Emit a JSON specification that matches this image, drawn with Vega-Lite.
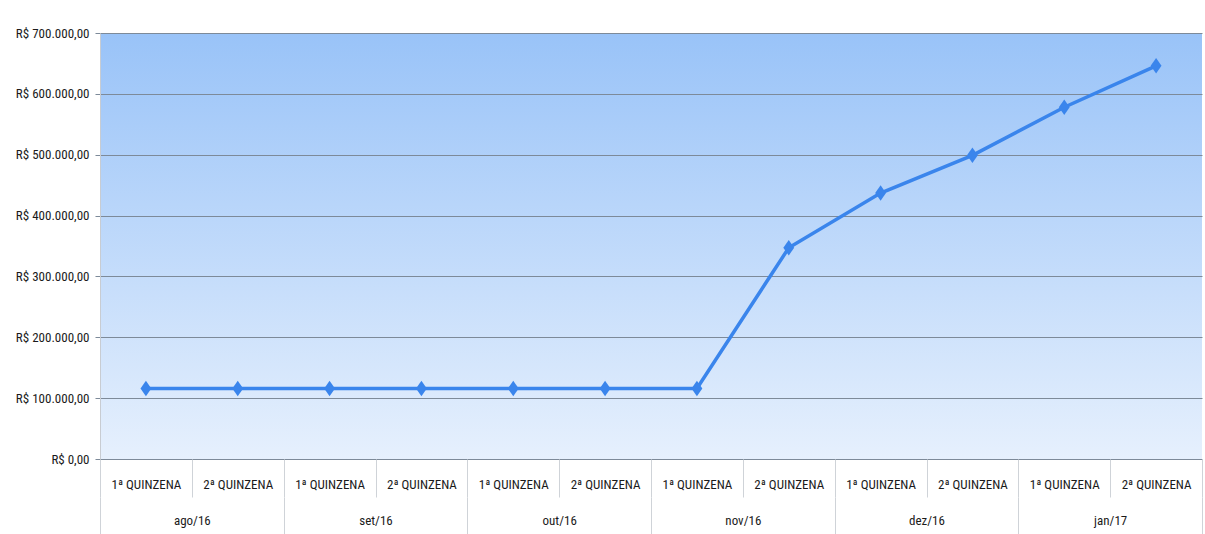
{
  "$schema": "https://vega.github.io/schema/vega-lite/v6.json",
  "width": 1102,
  "height": 426,
  "autosize": {"type": "none"},
  "padding": {"left": 100, "top": 33, "right": 3, "bottom": 75},
  "background": "white",
  "config": {
    "view": {
      "stroke": null,
      "fill": {"gradient": "linear", "x1": 0, "y1": 0, "x2": 0, "y2": 1,
        "stops": [{"offset": 0, "color": "#99c3f8"}, {"offset": 1, "color": "#e6f0fd"}]}
    },
    "font": "Liberation Sans Narrow, Roboto Condensed, DejaVu Sans Condensed, sans-serif",
    "axis": {"labelFont": "Liberation Sans Narrow, Roboto Condensed, DejaVu Sans Condensed, sans-serif", "labelColor": "#1a1a1a", "labelFontSize": 13}
  },
  "data": {
    "values": [
      {"key": "ago/16|1ª QUINZENA", "mes": "ago/16", "valor": 116000},
      {"key": "ago/16|2ª QUINZENA", "mes": "ago/16", "valor": 116000},
      {"key": "set/16|1ª QUINZENA", "mes": "set/16", "valor": 116000},
      {"key": "set/16|2ª QUINZENA", "mes": "set/16", "valor": 116000},
      {"key": "out/16|1ª QUINZENA", "mes": "out/16", "valor": 116000},
      {"key": "out/16|2ª QUINZENA", "mes": "out/16", "valor": 116000},
      {"key": "nov/16|1ª QUINZENA", "mes": "nov/16", "valor": 116000},
      {"key": "nov/16|2ª QUINZENA", "mes": "nov/16", "valor": 347000},
      {"key": "dez/16|1ª QUINZENA", "mes": "dez/16", "valor": 437000},
      {"key": "dez/16|2ª QUINZENA", "mes": "dez/16", "valor": 499000},
      {"key": "jan/17|1ª QUINZENA", "mes": "jan/17", "valor": 578000},
      {"key": "jan/17|2ª QUINZENA", "mes": "jan/17", "valor": 646000}
    ]
  },
  "resolve": {"scale": {"x": "independent"}, "axis": {"x": "independent"}},
  "layer": [
    {
      "layer": [
        {
          "mark": {"type": "line", "color": "#3a85ec", "strokeWidth": 3.5},
          "encoding": {
            "x": {"field": "key", "type": "nominal", "sort": null, "bandPosition": 0.5,
              "scale": {"type": "band", "paddingInner": 0, "paddingOuter": 0},
              "axis": {"title": null, "orient": "bottom", "domain": false, "labelAngle": 0,
                "tickBand": "extent", "tickSize": 38, "tickColor": "#cfd3d8", "tickWidth": 1,
                "labelBaseline": "middle", "labelPadding": -13, "labelFontSize": 13,
                "labelExpr": "split(datum.value, '|')[1]"}},
            "y": {"field": "valor", "type": "quantitative",
              "scale": {"domain": [0, 700000], "nice": false},
              "axis": {"title": null, "values": [0, 100000, 200000, 300000, 400000, 500000, 600000, 700000],
                "grid": true, "gridColor": "#7d8a99", "gridWidth": 1, "gridOpacity": 1,
                "domain": true, "domainColor": "#c8ccd2", "tickColor": "#7d8a99", "tickSize": 5,
                "labelPadding": 6,
                "labelExpr": "'R$ ' + replace(replace(replace(format(datum.value, ',.2f'), ',', '#'), '.', ','), '#', '.')"}}
          }
        },
        {
          "mark": {"type": "point", "shape": "M0,-1L0.7,0L0,1L-0.7,0Z", "filled": true, "color": "#3a85ec", "opacity": 1, "size": 240},
          "encoding": {
            "x": {"field": "key", "type": "nominal", "sort": null, "bandPosition": 0.5},
            "y": {"field": "valor", "type": "quantitative"}
          }
        }
      ]
    },
    {
      "mark": {"type": "rule", "opacity": 0},
      "encoding": {
        "x": {"field": "mes", "type": "nominal", "sort": null,
          "scale": {"type": "band", "paddingInner": 0, "paddingOuter": 0},
          "axis": {"title": null, "orient": "bottom", "offset": 38, "domain": false, "labelAngle": 0,
            "tickBand": "extent", "tickSize": 37, "tickColor": "#cfd3d8", "tickWidth": 1,
            "labelBaseline": "middle", "labelPadding": -14, "labelFontSize": 13}}
      }
    }
  ]
}
